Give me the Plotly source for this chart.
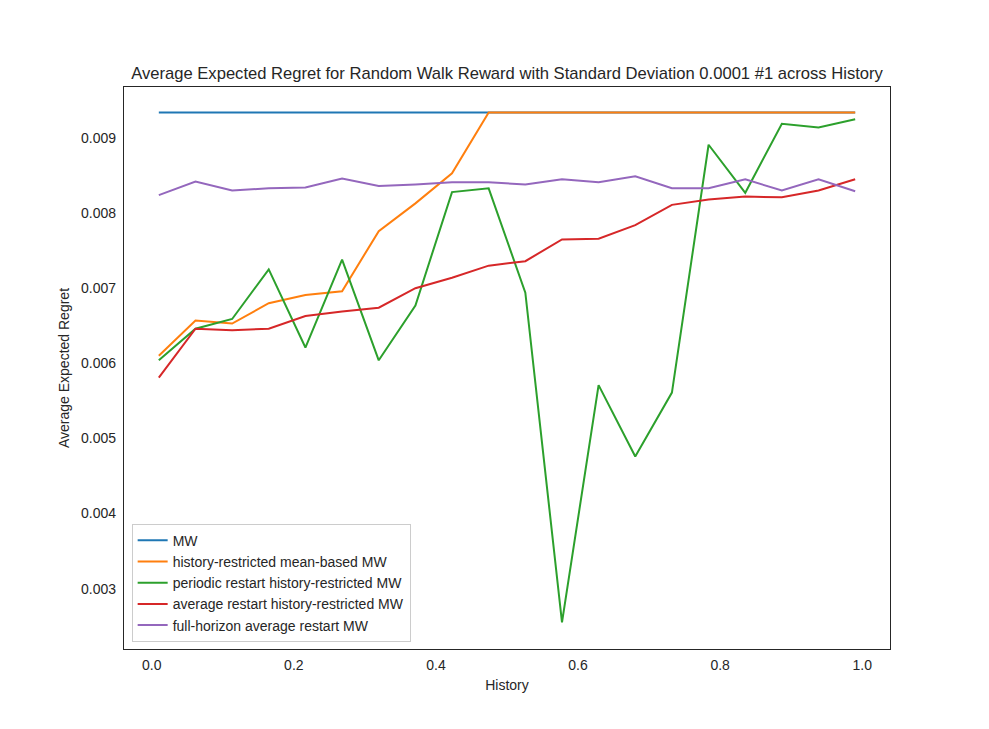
import plotly.graph_objects as go

history = [0.0100, 0.0616, 0.1132, 0.1647, 0.2163, 0.2679, 0.3195, 0.3711, 0.4226, 0.4742,
           0.5258, 0.5774, 0.6289, 0.6805, 0.7321, 0.7837, 0.8353, 0.8868, 0.9384, 0.9900]

mw = [0.00934] * 20
hist_mean_mw = [0.00610, 0.00657, 0.00653, 0.00680, 0.00691, 0.00696, 0.00776, 0.00813, 0.00853, 0.00934,
                0.00934, 0.00934, 0.00934, 0.00934, 0.00934, 0.00934, 0.00934, 0.00934, 0.00934, 0.00934]
periodic_mw = [0.00604, 0.00646, 0.00659, 0.00725, 0.00621, 0.00738, 0.00604, 0.00677, 0.00828, 0.00833,
               0.00694, 0.00255, 0.00571, 0.00476, 0.00561, 0.00891, 0.00827, 0.00919, 0.00914, 0.00925]
avg_restart_mw = [0.00581, 0.00646, 0.00644, 0.00646, 0.00663, 0.00669, 0.00674, 0.00700, 0.00714, 0.00730,
                  0.00736, 0.00765, 0.00766, 0.00784, 0.00811, 0.00818, 0.00822, 0.00821, 0.00830, 0.00845]
full_horizon_mw = [0.00824, 0.00842, 0.00830, 0.00833, 0.00834, 0.00846, 0.00836, 0.00838, 0.00841, 0.00841,
                   0.00838, 0.00845, 0.00841, 0.00849, 0.00833, 0.00833, 0.00845, 0.00830, 0.00845, 0.00829]

series = [
    ("MW", mw, "#1f77b4"),
    ("history-restricted mean-based MW", hist_mean_mw, "#ff7f0e"),
    ("periodic restart history-restricted MW", periodic_mw, "#2ca02c"),
    ("average restart history-restricted MW", avg_restart_mw, "#d62728"),
    ("full-horizon average restart MW", full_horizon_mw, "#9467bd"),
]

fig = go.Figure()
for name, vals, color in series:
    fig.add_trace(go.Scatter(x=history, y=vals, mode="lines", name=name,
                             line=dict(color=color, width=2)))

font_family = "Liberation Sans, Arial, sans-serif"
axis_color = "#262626"

fig.update_layout(
    width=981, height=721, autosize=False,
    margin=dict(l=116, r=99, t=79, b=80),
    paper_bgcolor="white", plot_bgcolor="white",
    font=dict(family=font_family, size=14, color=axis_color),
    title=dict(text="Average Expected Regret for Random Walk Reward with Standard Deviation 0.0001 #1 across History",
               x=0.5087, xanchor="center", y=0.9098, yanchor="middle",
               font=dict(size=16.6, color=axis_color)),
    showlegend=True,
    legend=dict(x=0.01, y=0.013, xanchor="left", yanchor="bottom",
                bgcolor="rgba(255,255,255,0.8)", bordercolor="#cccccc", borderwidth=1,
                font=dict(size=14, color=axis_color), tracegroupgap=0),
    xaxis=dict(range=[-0.039, 1.039], tickvals=[0.0, 0.2, 0.4, 0.6, 0.8, 1.0],
               ticktext=["0.0", "0.2", "0.4", "0.6", "0.8", "1.0"],
               showgrid=False, zeroline=False, showline=True, mirror=True,
               linecolor=axis_color, linewidth=1.25, ticks="outside", ticklen=3,
               tickcolor="rgba(0,0,0,0)",
               title=dict(text="History", font=dict(size=14), standoff=8)),
    yaxis=dict(range=[0.002196, 0.009679],
               tickvals=[0.003, 0.004, 0.005, 0.006, 0.007, 0.008, 0.009],
               ticktext=["0.003", "0.004", "0.005", "0.006", "0.007", "0.008", "0.009"],
               showgrid=False, zeroline=False, showline=True, mirror=True,
               linecolor=axis_color, linewidth=1.25, ticks="outside", ticklen=4,
               tickcolor="rgba(0,0,0,0)",
               title=dict(text="Average Expected Regret", font=dict(size=14), standoff=8)),
)

fig.write_html("out.html")
